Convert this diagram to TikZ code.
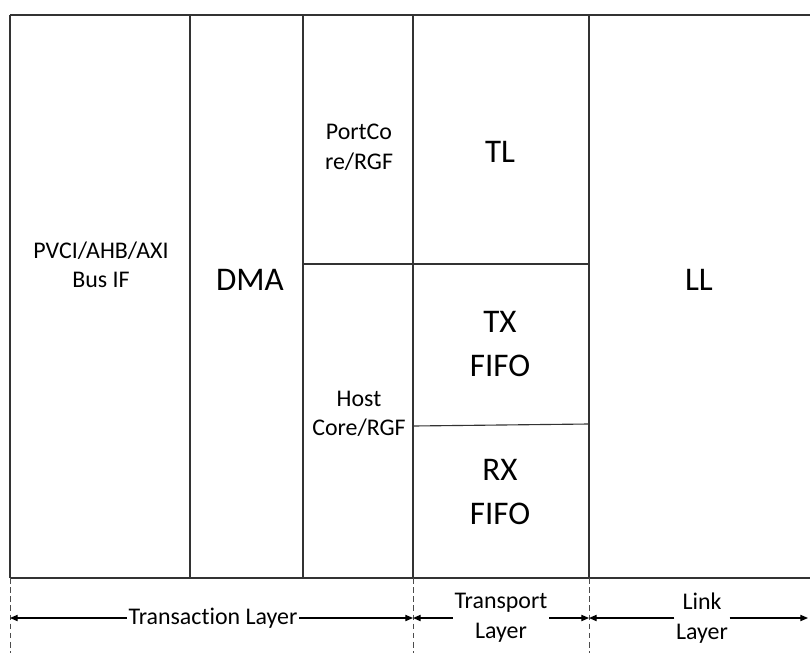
\documentclass[tikz,border=0pt]{standalone}
\usepackage{fontspec}
\setmainfont{Carlito}[Ligatures={NoCommon,NoRare}]
\usetikzlibrary{arrows.meta,positioning}

\begin{document}
\begin{tikzpicture}[x=0.025cm,y=-0.025cm,
  cell/.style={align=center,font=\fontsize{17}{21}\selectfont,inner sep=1pt},
  big/.style={align=center,font=\fontsize{23.5}{31}\selectfont,inner sep=1pt},
  frame/.style={line width=0.8pt,black!80},
  sep/.style={dash pattern=on 4pt off 2.5pt,line width=0.6pt,black!70},
  span/.style={-{Triangle[length=5.5pt,width=4.5pt]},line width=0.8pt}]
\useasboundingbox (0,0) rectangle (810,653);
% outline of the blocks
\draw[frame] (10,15) -- (810,15);
\draw[frame] (10,578) -- (810,578);
\foreach \x in {10,190,303,413,589}{
  \draw[frame] (\x,15) -- (\x,578);
}
\draw[frame] (303,264) -- (589,264);
\draw[frame] (413,426) -- (589,424);
% layer boundaries
\foreach \x in {10,413,589}{
  \draw[sep] (\x,578) -- (\x,653);
}
% block names
\node[cell] (bus) at (101,265) {PVCI/AHB/AXI\\Bus IF};
\node[big] (dma) at (250,280) {DMA};
\node[cell] (port) at (359,147) {PortCo\\re/RGF};
\node[cell] (host) at (359,414) {Host\\Core/RGF};
\node[big] (tl) at (500,152) {TL};
\node[big] (tx) at (500,344) {TX\\FIFO};
\node[big] (rx) at (500,492) {RX\\FIFO};
\node[big] (ll) at (699,280) {LL};
% layer spans
\coordinate (tr0) at (10,618);
\coordinate (tr1) at (413,618);
\coordinate (tp1) at (589,618);
\coordinate (lk1) at (808,618);
\node[cell] (trans) at (213,618) {Transaction Layer};
\node[cell] (transp) at (501,618) {Transport\\Layer};
\node[cell] (link) at (702,618) {Link\\Layer};
\draw[span] (trans.west) -- (tr0);
\draw[span] (trans.east) -- (tr1);
\draw[span] (transp.west) -- (tr1);
\draw[span] (transp.east) -- (tp1);
\draw[span] (link.west) -- (tp1);
\draw[span] (link.east) -- (lk1);
\end{tikzpicture}
\end{document}
